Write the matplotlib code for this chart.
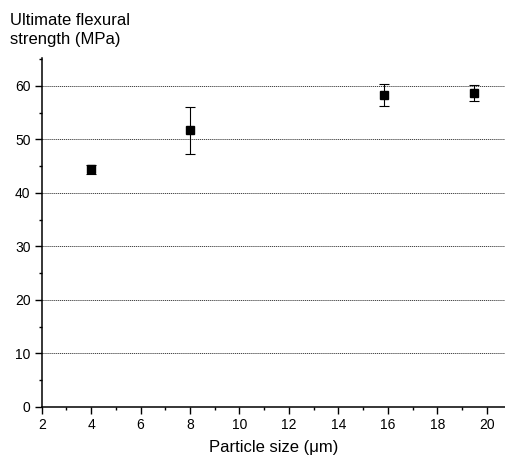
import matplotlib
matplotlib.use("Agg")
import matplotlib.pyplot as plt
from matplotlib.ticker import MultipleLocator

plt.rcParams["font.family"] = ["Liberation Sans", "DejaVu Sans"]

particle_size = [4.0, 8.0, 15.85, 19.5]
strength = [44.4, 51.7, 58.3, 58.7]
strength_err = [0.9, 4.4, 2.0, 1.5]

fig = plt.figure(figsize=(5.05, 4.58), dpi=100)
ax = fig.add_axes([0.0826, 0.112, 0.9174, 0.761])

ax.errorbar(particle_size, strength, yerr=strength_err, fmt="s", color="black",
            markersize=5.5, ecolor="black", elinewidth=0.8, capsize=3.5,
            capthick=0.8, zorder=5)

ax.set_xlim(2, 20.74)
ax.set_ylim(0, 65.2)
ax.xaxis.set_major_locator(MultipleLocator(2))
ax.xaxis.set_minor_locator(MultipleLocator(1))
ax.yaxis.set_major_locator(MultipleLocator(10))
ax.yaxis.set_minor_locator(MultipleLocator(5))

for v in range(10, 70, 10):
    ax.axhline(v, color="#444444", linestyle=(0, (1.2, 0.8)), linewidth=0.7, zorder=1)

for s in ("top", "right"):
    ax.spines[s].set_visible(False)
for s in ("left", "bottom"):
    ax.spines[s].set_linewidth(1.1)

ax.tick_params(which="major", direction="out", length=5, width=1.0,
               labelsize=10, pad=3)
ax.tick_params(which="minor", direction="out", length=2.5, width=1.0)

ax.set_xlabel("Particle size (μm)", fontsize=12, labelpad=6)
fig.text(10 / 505, 1 - 13 / 458, "Ultimate flexural\nstrength (MPa)",
         fontsize=12, ha="left", va="top", linespacing=1.3)

fig.savefig("out.png", dpi=100)
